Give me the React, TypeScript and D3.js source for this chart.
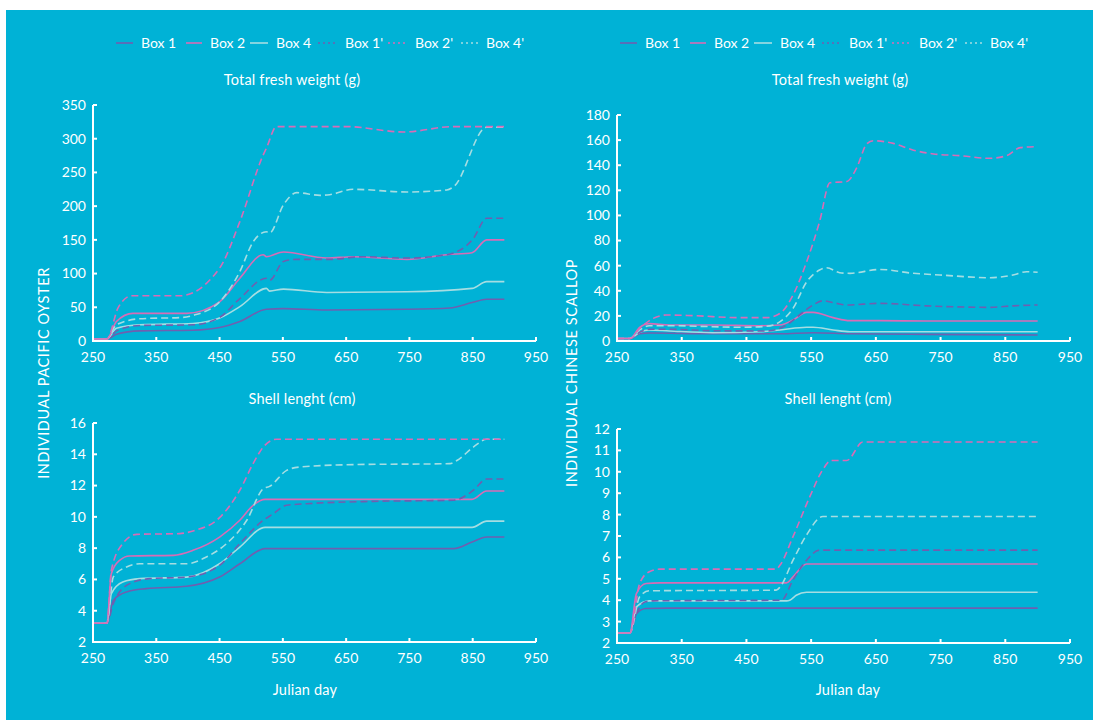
import React from "react";
import * as d3 from "d3";

type Pt = [number, number];

// ---------- categories / legend ----------
const seriesNames = ["Box 1", "Box 2", "Box 4", "Box 1'", "Box 2'", "Box 4'"];
const seriesColors = ["#6f5fb0", "#d96cb6", "#a6dde2", "#6f5fb0", "#d96cb6", "#a6dde2"];
const seriesDashed = [false, false, false, true, true, true];

const xTicks = [250, 350, 450, 550, 650, 750, 850, 950];
const oysterWeightTicks = [0, 50, 100, 150, 200, 250, 300, 350];
const oysterShellTicks = [2, 4, 6, 8, 10, 12, 14, 16];
const scallopWeightTicks = [0, 20, 40, 60, 80, 100, 120, 140, 160, 180];
const scallopShellTicks = [2, 3, 4, 5, 6, 7, 8, 9, 10, 11, 12];

// ---------- Pacific oyster: total fresh weight (g) ----------
const oysterWeightBox1: Pt[] = [[250,3],[272,3],[287,10],[324,15],[408,16],[450,20],[482,29],[524,47],[551,48],[619,46],[746,47],[814,49],[849,57],[872,62],[900,62]];
const oysterWeightBox2: Pt[] = [[250,3],[272,3],[287,29],[313,41],[398,41],[450,58],[482,93],[519,128],[524,125],[551,132],[619,123],[661,125],[746,121],[809,128],[849,131],[872,150],[900,150]];
const oysterWeightBox4: Pt[] = [[250,3],[272,3],[287,19],[324,24],[408,26],[450,34],[482,51],[524,78],[529,74],[551,77],[619,72],[746,73],[849,78],[872,88],[900,88]];
const oysterWeightBox1p: Pt[] = [[250,3],[272,3],[287,15],[324,23],[408,24],[450,35],[482,63],[524,93],[529,90],[551,118],[572,121],[624,121],[677,125],[746,123],[809,128],[851,152],[872,182],[900,182]];
const oysterWeightBox2p: Pt[] = [[250,3],[272,3],[290,50],[311,67],[387,67],[450,108],[482,177],[519,276],[524,286],[540,318],[650,318],[741,310],[820,318],[900,318]];
const oysterWeightBox4p: Pt[] = [[250,3],[272,3],[287,24],[324,33],[392,35],[408,38],[450,58],[482,103],[503,147],[524,162],[529,160],[551,202],[572,220],[609,216],[624,217],[661,225],[746,221],[809,224],[820,229],[872,317],[900,317]];

// ---------- Pacific oyster: shell length (cm) ----------
const oysterShellBox1: Pt[] = [[250,3.2],[272,3.2],[282,4.66],[303,5.2],[334,5.41],[398,5.56],[450,6.15],[482,7.0],[522,7.97],[820,7.97],[849,8.39],[872,8.71],[900,8.71]];
const oysterShellBox2: Pt[] = [[250,3.2],[272,3.2],[279,6.37],[292,7.22],[308,7.5],[377,7.54],[408,7.86],[450,8.71],[482,9.78],[503,10.74],[522,11.12],[849,11.12],[872,11.65],[900,11.65]];
const oysterShellBox4: Pt[] = [[250,3.2],[272,3.2],[279,5.09],[297,5.84],[324,6.05],[398,6.15],[450,7.0],[482,8.07],[522,9.33],[849,9.33],[872,9.73],[900,9.73]];
const oysterShellBox1p: Pt[] = [[250,3.2],[272,3.2],[282,4.45],[308,5.73],[340,6.05],[398,6.15],[450,6.9],[482,8.29],[519,9.78],[535,10.2],[556,10.74],[588,10.84],[693,10.99],[820,11.06],[851,11.7],[872,12.42],[900,12.42]];
const oysterShellBox2p: Pt[] = [[250,3.2],[272,3.2],[279,6.58],[297,8.29],[319,8.88],[387,8.93],[408,9.1],[450,9.95],[482,11.7],[503,13.4],[519,14.46],[540,14.96],[900,14.96]];
const oysterShellBox4p: Pt[] = [[250,3.2],[272,3.2],[282,6.15],[303,6.8],[324,7.0],[398,7.0],[429,7.43],[461,8.29],[493,9.78],[519,11.8],[529,11.95],[556,12.97],[577,13.19],[661,13.34],[814,13.4],[825,13.6],[851,14.46],[872,14.96],[900,14.96]];

// ---------- Chinese scallop: total fresh weight (g) ----------
const scallopWeightBox1: Pt[] = [[250,2],[270,2],[285,5.8],[300,6.4],[398,5.8],[502,5.8],[553,6.6],[610,5.8],[728,5.3],[900,4.8]];
const scallopWeightBox2: Pt[] = [[250,2],[270,2],[285,10.9],[300,13.8],[331,12.7],[398,12.7],[471,12.2],[502,12.7],[522,16.7],[543,22.8],[553,22.8],[584,18.6],[610,16.2],[656,16.2],[728,15.9],[900,15.9]];
const scallopWeightBox4: Pt[] = [[250,2],[270,2],[285,6.9],[300,8.8],[331,8],[398,6.6],[471,7.4],[502,8.8],[543,10.9],[553,10.9],[584,8.8],[610,7.4],[900,7.4]];
const scallopWeightBox1p: Pt[] = [[250,2],[270,2],[285,6.9],[300,9.3],[331,9.3],[398,8.2],[481,8],[512,12.7],[532,20.7],[553,28.7],[568,32],[589,30],[605,28.7],[656,30],[728,28],[826,26.8],[862,28],[900,28.7]];
const scallopWeightBox2p: Pt[] = [[250,2],[270,2],[285,10],[306,18],[326,20.7],[368,20.2],[440,18.6],[481,18.6],[502,22],[522,36.6],[543,63],[563,95],[579,126],[605,127],[620,137.5],[636,157],[646,159.5],[677,157.4],[708,152],[739,149],[780,147.6],[826,145.5],[852,147.6],[873,154],[900,154.8]];
const scallopWeightBox4p: Pt[] = [[250,2],[270,2],[285,8.8],[300,12.2],[331,12.2],[398,11.4],[440,10.9],[481,11.7],[502,15.4],[522,26],[543,47],[563,56.5],[574,58.4],[594,54.4],[610,53.9],[656,57],[708,53.9],[749,52.6],[826,50.4],[862,52.6],[883,55.2],[900,54.7]];

// ---------- Chinese scallop: shell length (cm) ----------
const scallopShellBox1: Pt[] = [[250,2.47],[270,2.47],[280,3.37],[295,3.61],[330,3.63],[900,3.63]];
const scallopShellBox2: Pt[] = [[250,2.47],[270,2.47],[280,4.31],[295,4.78],[316,4.81],[512,4.81],[522,5.09],[543,5.69],[900,5.69]];
const scallopShellBox4: Pt[] = [[250,2.47],[270,2.47],[280,3.69],[300,3.97],[512,3.97],[517,4.0],[527,4.23],[543,4.37],[900,4.37]];
const scallopShellBox1p: Pt[] = [[250,2.47],[270,2.47],[280,3.37],[293,3.92],[306,3.97],[504,4.0],[522,4.94],[543,5.87],[563,6.34],[900,6.34]];
const scallopShellBox2p: Pt[] = [[250,2.47],[270,2.47],[285,4.78],[300,5.33],[316,5.45],[496,5.45],[502,5.64],[522,6.97],[548,8.84],[568,10.1],[581,10.53],[605,10.53],[630,11.39],[900,11.39]];
const scallopShellBox4p: Pt[] = [[250,2.47],[270,2.47],[285,4.16],[300,4.44],[496,4.47],[502,4.62],[522,5.87],[543,7.05],[568,7.91],[900,7.91]];

const FONT = "Lato, 'Open Sans', sans-serif";
const BG = "#00b2d6";

interface PanelProps {
  left: number; right: number; bottom: number; top: number;
  yDomain: [number, number]; yTicks: number[];
  series: Pt[][];
}

function Panel({ left, right, bottom, top, yDomain, yTicks, series }: PanelProps) {
  const x = d3.scaleLinear().domain([250, 950]).range([left, right]);
  const y = d3.scaleLinear().domain(yDomain).range([bottom, top]);
  const line = d3.line<Pt>().x(d => x(d[0])).y(d => y(d[1])).curve(d3.curveMonotoneX);
  const order = [0, 2, 1, 3, 5, 4];
  return (
    <g>
      {order.map(i => (
        <path key={i} d={line(series[i]) || ""} fill="none" stroke={seriesColors[i]}
          strokeWidth={1.6} strokeDasharray={seriesDashed[i] ? "7 4" : undefined} />
      ))}
      <path d={`M${left},${top}V${bottom}H${right}`} fill="none" stroke="#fff" strokeWidth={2} />
      {yTicks.map(t => (
        <g key={"y" + t}>
          <line x1={left} x2={left + 4} y1={y(t)} y2={y(t)} stroke="#fff" strokeWidth={2} />
          <text x={left - 7} y={y(t)} dy="0.35em" textAnchor="end" fill="#fff" fontSize={14} fontFamily={FONT}>{t}</text>
        </g>
      ))}
      {xTicks.map(t => (
        <g key={"x" + t}>
          <line x1={x(t)} x2={x(t)} y1={bottom} y2={bottom - 4} stroke="#fff" strokeWidth={2} />
          <text x={x(t)} y={bottom + 16} dy="0.35em" textAnchor="middle" fill="#fff" fontSize={14} fontFamily={FONT}>{t}</text>
        </g>
      ))}
    </g>
  );
}

function Legend({ x0 }: { x0: number }) {
  const offsets = [0, 70, 134, 202, 272, 345];
  const widths = [17, 16, 18, 19, 19, 17];
  return (
    <g>
      {seriesNames.map((n, i) => (
        <g key={n} transform={`translate(${x0 + offsets[i]},43)`}>
          <line x1={0} x2={widths[i]} y1={0} y2={0} stroke={seriesColors[i]} strokeWidth={1.6}
            strokeDasharray={seriesDashed[i] ? "2 3" : undefined} />
          <text x={widths[i] + 8} y={0} dy="0.35em" fill="#fff" fontSize={14} fontFamily={FONT}>{n}</text>
        </g>
      ))}
    </g>
  );
}

function Label({ x, y, text, rotate }: { x: number; y: number; text: string; rotate?: boolean }) {
  return (
    <text x={x} y={y} dy="0.35em" textAnchor="middle" fill="#fff" fontSize={14.5} fontFamily={FONT}
      letterSpacing={rotate ? 0.6 : 0.2}
      transform={rotate ? `rotate(-90,${x},${y})` : undefined}>{text}</text>
  );
}

export default function App() {
  return (
    <svg width={1093} height={720} style={{ position: "absolute", left: 0, top: 0, display: "block" }}>
      <rect x={0} y={0} width={1093} height={720} fill="#fff" />
      <rect x={6} y={10} width={1087} height={710} fill={BG} />
      <Legend x0={116} />
      <Legend x0={620} />
      <Label x={292} y={80} text="Total fresh weight (g)" />
      <Label x={840} y={80} text="Total fresh weight (g)" />
      <Label x={302} y={399} text="Shell lenght (cm)" />
      <Label x={838} y={399} text="Shell lenght (cm)" />
      <Label x={305} y={690} text="Julian day" />
      <Label x={848} y={690} text="Julian day" />
      <Label x={44} y={373} text="INDIVIDUAL PACIFIC OYSTER" rotate />
      <Label x={572} y={373} text="INDIVIDUAL CHINESE SCALLOP" rotate />
      <Panel left={93} right={536} bottom={341} top={105} yDomain={[0, 350]} yTicks={oysterWeightTicks}
        series={[oysterWeightBox1, oysterWeightBox2, oysterWeightBox4, oysterWeightBox1p, oysterWeightBox2p, oysterWeightBox4p]} />
      <Panel left={617} right={1070} bottom={341} top={115} yDomain={[0, 180]} yTicks={scallopWeightTicks}
        series={[scallopWeightBox1, scallopWeightBox2, scallopWeightBox4, scallopWeightBox1p, scallopWeightBox2p, scallopWeightBox4p]} />
      <Panel left={93} right={536} bottom={642} top={423} yDomain={[2, 16]} yTicks={oysterShellTicks}
        series={[oysterShellBox1, oysterShellBox2, oysterShellBox4, oysterShellBox1p, oysterShellBox2p, oysterShellBox4p]} />
      <Panel left={617} right={1070} bottom={643} top={429} yDomain={[2, 12]} yTicks={scallopShellTicks}
        series={[scallopShellBox1, scallopShellBox2, scallopShellBox4, scallopShellBox1p, scallopShellBox2p, scallopShellBox4p]} />
    </svg>
  );
}
